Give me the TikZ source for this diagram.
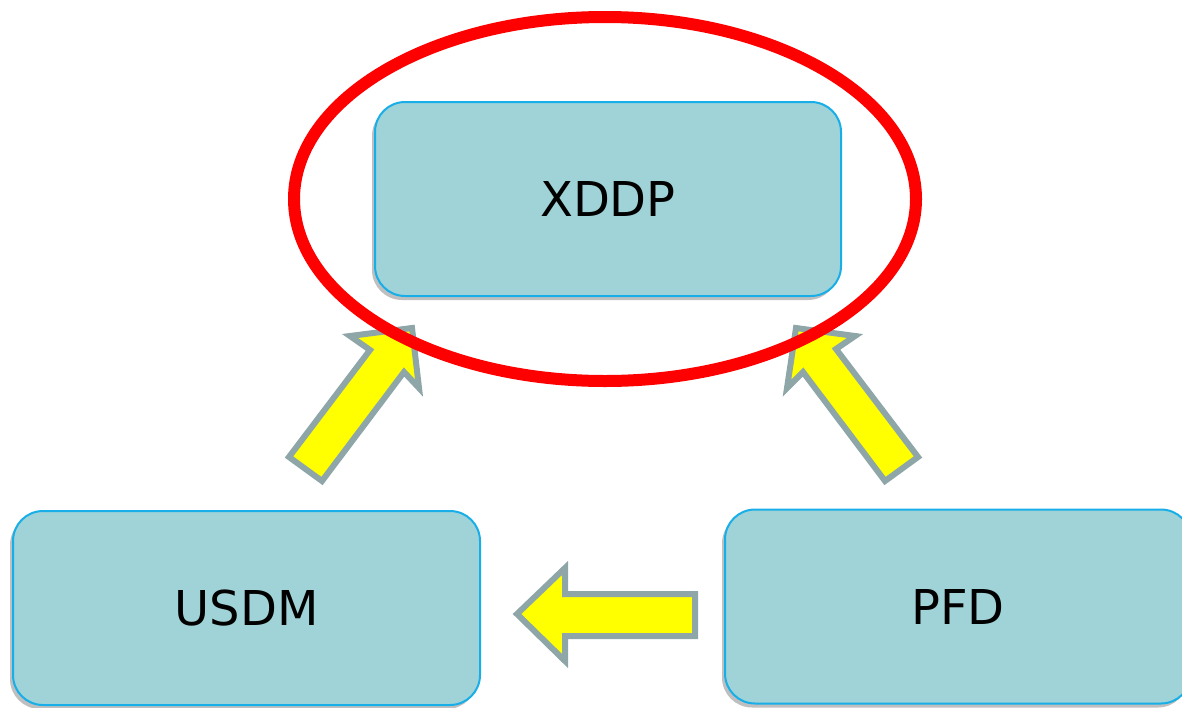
\documentclass[tikz,border=0pt]{standalone}
\usepackage{fontspec}
\setmainfont{DejaVu Sans}
\usetikzlibrary{shadows}
\definecolor{boxfill}{RGB}{160,211,216}
\definecolor{boxline}{RGB}{24,174,232}
\definecolor{arrline}{RGB}{143,166,168}
\definecolor{arrfill}{RGB}{255,255,0}
\tikzset{
  block/.style={draw=boxline, line width=2pt, fill=boxfill, rounded corners=30pt,
    minimum height=194pt, font=\fontsize{48}{56}\selectfont, text=black,
    drop shadow={shadow xshift=-3pt, shadow yshift=-4pt, opacity=0.25, fill=black}},
  blockarrow/.style={draw=arrline, line width=6pt, fill=arrfill, line join=miter}
}
\begin{document}
\begin{tikzpicture}[x=1pt,y=-1pt]
\useasboundingbox (0,0) rectangle (1182,707);
\node[block, minimum width=466pt] (xddp) at (608,199) {XDDP};
\node[block, minimum width=467pt] (usdm) at (246.5,608) {USDM};
\node[block, minimum width=466pt] (pfd) at (958,606.5) {PFD};
% block arrows
\draw[blockarrow] (412,328) -- (350,336) -- (370,350) -- (289,457) -- (322,481) -- (404,372) -- (419,388) -- cycle;
\draw[blockarrow] (796,328) -- (855,336) -- (836,349) -- (918,457) -- (885,481) -- (803,372) -- (787,388) -- cycle;
\draw[blockarrow] (517,614) -- (565,568) -- (565,594) -- (695,594) -- (695,636) -- (565,636) -- (565,661) -- cycle;
% red ellipse
\draw[red, line width=12pt] (605,199) ellipse [x radius=311, y radius=182];
\end{tikzpicture}
\end{document}
